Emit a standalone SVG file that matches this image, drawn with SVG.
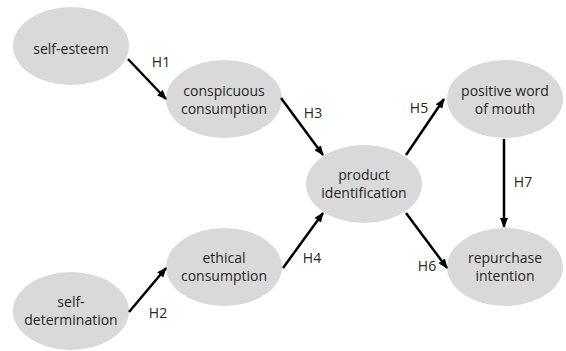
<svg xmlns="http://www.w3.org/2000/svg" width="566" height="351" viewBox="0 0 566 351">
<style>
.n ellipse{fill:#d9d9d9}
text{font-family:"Open Sans","Noto Sans","Liberation Sans",sans-serif;font-size:14px;fill:#262626;text-anchor:middle}
.e line{stroke:#000;stroke-width:2.5;marker-end:url(#a)}
</style>
<defs>
<marker id="a" markerWidth="10" markerHeight="8" refX="9" refY="4" orient="auto" markerUnits="userSpaceOnUse">
<path d="M0,0L10,4L0,8z" fill="#000"/>
</marker>
</defs>
<rect width="566" height="351" fill="#fff"/>
<g class="n" id="self-esteem"><ellipse cx="71" cy="46" rx="58" ry="39"/><text x="71" y="54">self-esteem</text></g>
<g class="n" id="conspicuous"><ellipse cx="224" cy="99" rx="58" ry="39"/><text x="224" y="96">conspicuous</text><text x="224" y="114">consumption</text></g>
<g class="n" id="product"><ellipse cx="364" cy="184" rx="58" ry="39"/><text x="364" y="180">product</text><text x="364" y="198">identification</text></g>
<g class="n" id="wom"><ellipse cx="505" cy="99" rx="58" ry="39"/><text x="505" y="96">positive word</text><text x="505" y="114">of mouth</text></g>
<g class="n" id="self-determination"><ellipse cx="71" cy="311" rx="58" ry="39"/><text x="71" y="307">self-</text><text x="71" y="325">determination</text></g>
<g class="n" id="ethical"><ellipse cx="224" cy="267" rx="58" ry="39"/><text x="224" y="263">ethical</text><text x="224" y="281">consumption</text></g>
<g class="n" id="repurchase"><ellipse cx="505" cy="267" rx="58" ry="39"/><text x="505" y="263">repurchase</text><text x="505" y="281">intention</text></g>
<g class="e" id="connectors">
<line x1="128" y1="59" x2="166" y2="99"/>
<line x1="281" y1="98" x2="323" y2="155"/>
<line x1="406" y1="155" x2="444" y2="99"/>
<line x1="504" y1="139" x2="504" y2="227"/>
<line x1="129" y1="312" x2="166" y2="268"/>
<line x1="283" y1="268" x2="323" y2="213"/>
<line x1="406" y1="213" x2="447" y2="268"/>
<text x="161" y="67">H1</text>
<text x="313" y="118">H3</text>
<text x="419" y="113">H5</text>
<text x="523" y="187">H7</text>
<text x="158" y="318">H2</text>
<text x="312" y="263">H4</text>
<text x="427" y="271">H6</text>
</g>
</svg>
